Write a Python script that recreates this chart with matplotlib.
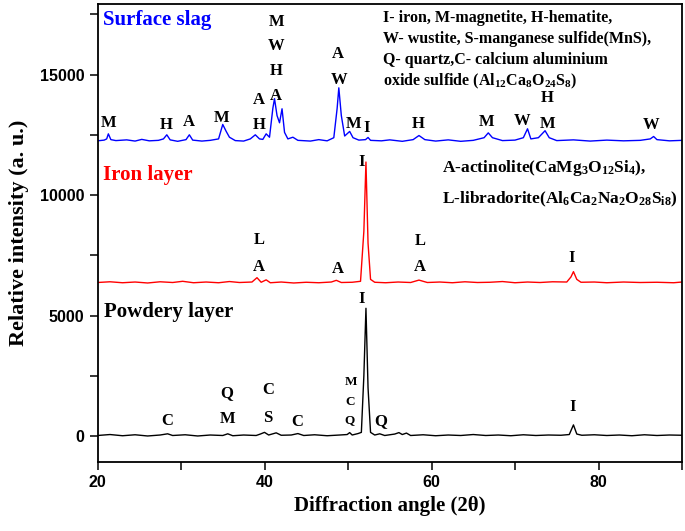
import matplotlib
matplotlib.use("Agg")
import matplotlib.pyplot as plt
from matplotlib.ticker import MultipleLocator

plt.rcParams['mathtext.fontset'] = 'custom'
plt.rcParams['mathtext.rm'] = 'Liberation Serif:bold'
plt.rcParams['mathtext.it'] = 'Liberation Serif:bold'
plt.rcParams['mathtext.bf'] = 'Liberation Serif:bold'
plt.rcParams['mathtext.default'] = 'rm'

# surface slag pattern (vertices)
slag_x = [20, 20.8, 21.1, 21.3, 21.6, 22.2, 23.5, 24.5, 25.3, 26.2, 27.3, 27.9, 28.3, 28.7,
          29.6, 30.6, 31.0, 31.4, 32.5, 33.5, 34.5, 35.0, 35.4, 35.8, 36.5, 37.5, 38.3, 38.9,
          39.4, 39.8, 40.2, 40.6, 41.0, 41.2, 41.5, 41.8, 42.1, 42.4, 42.8, 43.4, 44.0, 45.5,
          46.5, 47.5, 48.3, 48.7, 48.9, 49.2, 49.6, 50.2, 50.6, 51.3, 52.1, 52.4, 52.7, 54,
          55, 56.5, 57.8, 58.5, 59.2, 60.5, 62, 63.5, 65, 66.3, 66.8, 67.3, 68.5, 70.0, 71.0,
          71.5, 71.9, 72.8, 73.6, 74.1, 75.0, 77, 79, 81, 83, 85, 86.2, 86.6, 87.0, 88.5, 90]
slag_y = [12250, 12280, 12330, 12540, 12300, 12260, 12290, 12240, 12310, 12250, 12270, 12330,
          12500, 12290, 12230, 12300, 12500, 12280, 12240, 12270, 12330, 12930, 12650, 12400,
          12260, 12240, 12330, 12500, 12330, 12310, 12540, 12400, 13600, 14000, 13300, 13000,
          13580, 12600, 12330, 12400, 12270, 12240, 12300, 12250, 12380, 13600, 14450, 13300,
          12450, 12640, 12380, 12280, 12300, 12390, 12270, 12250, 12290, 12230, 12300, 12470,
          12300, 12240, 12290, 12230, 12270, 12380, 12580, 12380, 12260, 12280, 12380, 12750,
          12330, 12380, 12670, 12380, 12260, 12290, 12240, 12280, 12250, 12270, 12330, 12430,
          12300, 12250, 12270]

# iron layer pattern
iron_x = [20, 21.5, 23, 24.5, 26, 27.5, 29, 30.2, 31.5, 33, 34.5, 35.8, 37, 38.5, 39.1, 39.6,
          40.2, 40.7, 42, 43.5, 45, 46.5, 48.0, 48.6, 49.2, 50.5, 51.5, 51.9, 52.15, 52.4,
          52.7, 53.2, 54.5, 56, 57.5, 58.5, 59.5, 61, 62.5, 64, 65.5, 67, 68.5, 70, 71.5, 73,
          74.5, 76.2, 76.7, 77.0, 77.4, 77.9, 79.5, 81, 83, 85, 87, 89, 90]
iron_y = [6370, 6400, 6360, 6390, 6350, 6400, 6370, 6420, 6360, 6390, 6360, 6410, 6370, 6390,
          6570, 6380, 6480, 6360, 6390, 6350, 6380, 6360, 6390, 6460, 6370, 6380, 6420, 8500,
          11370, 8000, 6500, 6380, 6360, 6390, 6370, 6470, 6370, 6390, 6360, 6400, 6370, 6380,
          6410, 6360, 6390, 6370, 6400, 6390, 6600, 6820, 6500, 6380, 6390, 6360, 6390, 6370,
          6380, 6360, 6390]

# powdery layer pattern
powder_x = [20, 21.5, 23, 24.5, 26, 27.5, 28.4, 29, 30.5, 32, 33.5, 35, 35.6, 36.2, 37.5, 39,
            39.5, 40.0, 40.5, 41.4, 42, 43.2, 44.0, 44.7, 46, 47.5, 49, 49.9, 50.2, 50.5, 51.2,
            51.6, 51.9, 52.15, 52.4, 52.7, 53.2, 53.8, 54.4, 55.6, 56.1, 56.5, 57.0, 57.5, 59,
            60.5, 62, 63.5, 65, 66.5, 68, 69.5, 71, 72.5, 74, 75.5, 76.5, 77.0, 77.4, 78, 79.5,
            81, 82.5, 84, 85.5, 87, 88.5, 90]
powder_y = [20, 60, 10, 50, 0, 40, 90, 20, 50, 0, 40, 20, 90, 10, 40, 20, 80, 150, 40, 130, 30,
            40, 100, 20, 50, 10, 40, 60, 140, 40, 100, 150, 2500, 5300, 2000, 150, 40, 90, 20,
            80, 140, 60, 120, 20, 50, 10, 40, 20, 60, 20, 40, 10, 50, 20, 40, 30, 60, 460, 80,
            30, 50, 20, 40, 10, 50, 20, 40, 30]

# peak labels: (text, 2theta, intensity)
slag_labels = [('M', 21.3, 12970), ('H', 28.2, 12925), ('A', 30.9, 13050), ('M', 34.9, 13215),
               ('H', 39.4, 12925), ('A', 39.3, 13960), ('A', 41.4, 14125), ('H', 41.4, 15160),
               ('W', 41.4, 16200), ('M', 41.4, 17200), ('A', 48.8, 15870), ('W', 48.9, 14790),
               ('M', 50.7, 12965), ('I', 52.2, 12800), ('H', 58.4, 12965), ('M', 66.6, 13050),
               ('W', 70.9, 13090), ('M', 73.9, 12965), ('H', 73.9, 14045), ('W', 86.3, 12925)]
iron_labels = [('L', 39.4, 8125), ('A', 39.3, 7010), ('A', 48.8, 6950), ('I', 51.6, 11360),
               ('L', 58.6, 8080), ('A', 58.6, 7030), ('I', 76.8, 7405)]
powder_labels = [('C', 28.35, 615), ('Q', 35.5, 1765), ('M', 35.6, 685), ('C', 40.5, 1890),
                 ('S', 40.4, 755), ('C', 43.9, 600), ('Q', 53.9, 615), ('I', 51.65, 5705),
                 ('I', 76.9, 1210)]
powder_small = [('M', 50.4, 2220), ('C', 50.2, 1430), ('Q', 50.2, 655)]

legend_lines = ['I- iron, M-magnetite, H-hematite,',
                'W- wustite, S-manganese sulfide(MnS),',
                'Q- quartz,C- calcium aluminium',
                'oxide sulfide (Al$_{12}$Ca$_8$O$_{24}$S$_8$)']
legend2_lines = ['A-actinolite(CaMg$_3$O$_{12}$Si$_4$),',
                 'L-libradorite(Al$_6$Ca$_2$Na$_2$O$_{28}$S$_{i8}$)']

serif = 'Liberation Serif'

fig = plt.figure(figsize=(6.85, 5.31), dpi=100)
ax = fig.add_axes([97.5/685, 1 - 462/531, (682 - 97.5)/685, (462 - 3.5)/531])

ax.plot(slag_x, slag_y, color='#0000ff', lw=1.0)
ax.plot(iron_x, iron_y, color='#ff0000', lw=1.0)
ax.plot(powder_x, powder_y, color='black', lw=1.0)

for t, x, y in slag_labels + iron_labels + powder_labels:
    ax.text(x, y, t, ha='center', va='center', fontsize=12, fontweight='bold', family=serif)
for t, x, y in powder_small:
    ax.text(x, y, t, ha='center', va='center', fontsize=9.5, fontweight='bold', family=serif)

ax.text(20.7, 17280, 'Surface slag', color='#0000ff', fontsize=15, fontweight='bold',
        family=serif, va='center')
ax.text(20.7, 10850, 'Iron layer', color='#ff0000', fontsize=15, fontweight='bold',
        family=serif, va='center')
ax.text(20.8, 5125, 'Powdery layer', color='black', fontsize=15, fontweight='bold',
        family=serif, va='center')

for i, line in enumerate(legend_lines):
    ax.text(54.2, 17365 - i * 885, line, fontsize=11.5, fontweight='bold', family=serif,
            va='center')
for i, line in enumerate(legend2_lines):
    ax.text(61.2, 11140 - i * 1330, line, fontsize=12.5, fontweight='bold', family=serif,
            va='center')

ax.set_xlim(20, 90)
ax.set_ylim(-1080, 17950)
ax.xaxis.set_major_locator(MultipleLocator(20))
ax.xaxis.set_minor_locator(MultipleLocator(10))
ax.yaxis.set_major_locator(MultipleLocator(5000))
ax.yaxis.set_minor_locator(MultipleLocator(2500))
ax.tick_params(which='both', direction='out', length=6, width=1.1, top=False, right=False)
for lab in ax.get_xticklabels() + ax.get_yticklabels():
    lab.set_fontfamily('Liberation Sans')
    lab.set_fontweight('bold')
    lab.set_fontsize(11.5)
for s in ax.spines.values():
    s.set_linewidth(1.3)

ax.set_xlabel('Diffraction angle (2θ)', fontsize=15, fontweight='bold', family=serif, labelpad=4)
ax.set_ylabel('Relative intensity (a. u.)', fontsize=16, fontweight='bold', family=serif,
              labelpad=8)

fig.savefig('out.png', dpi=100)
